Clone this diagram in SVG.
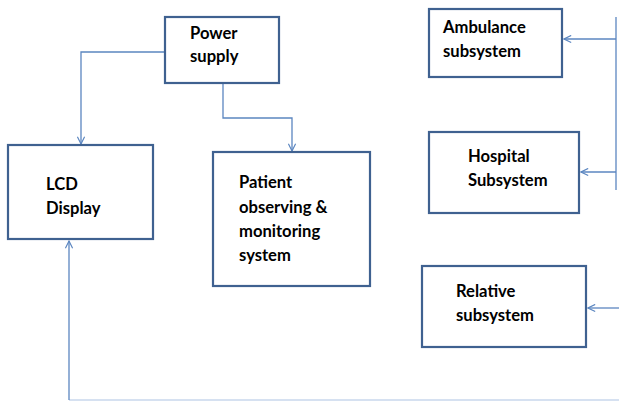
<svg xmlns="http://www.w3.org/2000/svg" width="619" height="401" viewBox="0 0 619 401">
<defs>
<style>
.box{fill:#fff;stroke:#3f6190;stroke-width:2.2}
.t{font-family:Lato,"Open Sans",sans-serif;font-weight:bold;font-size:16.6px;fill:#000}
.c{fill:none;stroke:#5b86c0;stroke-width:1.3}
.l{fill:none;stroke:#c9d7ec;stroke-width:1.5}
</style>
<marker id="a" viewBox="0 0 10 10" refX="9" refY="5" markerWidth="9" markerHeight="9" orient="auto" markerUnits="userSpaceOnUse">
<path d="M1,1 L9,5 L1,9" fill="none" stroke="#5b86c0" stroke-width="1.3"/>
</marker>
</defs>
<rect width="619" height="401" fill="#fff"/>
<g id="connectors">
<path class="c" d="M165,52 H81 V144" marker-end="url(#a)"/>
<path class="c" d="M223,84 V118 H292 V151" marker-end="url(#a)"/>
<path class="c" d="M616,17 V190"/>
<path class="c" d="M616,39 H564" marker-end="url(#a)"/>
<path class="c" d="M616,172 H581" marker-end="url(#a)"/>
<path class="c" d="M619,308 H588" marker-end="url(#a)"/>
<path class="l" d="M69,400 H619"/>
<path class="c" d="M69,400 V241" marker-end="url(#a)"/>
</g>
<g id="power">
<rect class="box" x="165" y="17" width="114" height="66"/>
<text class="t" x="190" y="39">Power</text>
<text class="t" x="190" y="62">supply</text>
</g>
<g id="ambulance">
<rect class="box" x="429" y="9" width="133" height="68"/>
<text class="t" x="443" y="33">Ambulance</text>
<text class="t" x="443" y="57">subsystem</text>
</g>
<g id="hospital">
<rect class="box" x="429" y="132" width="150" height="81"/>
<text class="t" x="468" y="162">Hospital</text>
<text class="t" x="468" y="186">Subsystem</text>
</g>
<g id="relative">
<rect class="box" x="422" y="266" width="164" height="81"/>
<text class="t" x="456" y="297">Relative</text>
<text class="t" x="456" y="321">subsystem</text>
</g>
<g id="lcd">
<rect class="box" x="8" y="145" width="145" height="94"/>
<text class="t" x="46" y="190">LCD</text>
<text class="t" x="46" y="214">Display</text>
</g>
<g id="patient">
<rect class="box" x="213" y="152" width="157" height="134"/>
<text class="t" x="239" y="188">Patient</text>
<text class="t" x="239" y="213">observing &amp;</text>
<text class="t" x="239" y="237">monitoring</text>
<text class="t" x="239" y="261">system</text>
</g>
</svg>
